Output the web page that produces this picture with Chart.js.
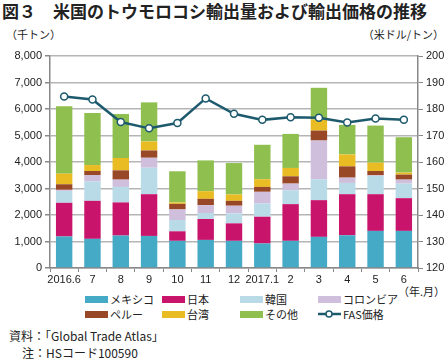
<!DOCTYPE html>
<html>
<head>
<meta charset="utf-8">
<script src="https://cdn.jsdelivr.net/npm/chart.js@4"></script>
<style>
  body { margin: 0; background: #fff; font-family: "Noto Sans CJK JP", sans-serif; color: #222; }
  #wrap { position: relative; width: 446px; height: 360px; overflow: hidden; }
  .abs { position: absolute; white-space: nowrap; }
  #title { left: 2px; top: 0px; font-size: 17px; font-weight: bold; letter-spacing: 0px; line-height: 22px; }
  .unit { font-size: 11px; top: 26px; line-height: 16px; }
  #legend { left: 0; top: 290px; width: 446px; height: 36px; }
  .item { position: absolute; font-size: 11px; line-height: 14px; }
  .box { position: absolute; top: 4px; width: 23px; height: 7px; }
  .note { font-size: 12px; line-height: 16px; }
  canvas { position: absolute; left: 0; top: 40px; }
</style>
</head>
<body>
<div id="wrap">
  <div id="title" class="abs">図３　米国のトウモロコシ輸出量および輸出価格の推移</div>
  <div class="abs unit" style="left:6px">（千トン）</div>
  <div class="abs unit" style="right:2px">（米ドル/トン）</div>
  <div class="abs" style="right:1px; top:283px; font-size:11px">（年.月）</div>
  <div id="legend" class="abs"></div>
  <div class="abs note" style="left:9px; top:328px">資料：「Global Trade Atlas」</div>
  <div class="abs note" style="left:22px; top:345px">注：HSコード100590</div>
  <canvas id="chart" width="446" height="250"></canvas>
</div>
<script>
// months
const months = ["2016.6", "7", "8", "9", "10", "11", "12", "2017.1", "2", "3", "4", "5", "6"];

// exports by destination (thousand tons)
const mexico   = [1190, 1100, 1225, 1210, 1025, 1060, 1025, 925, 1025, 1175, 1235, 1400, 1400];
const japan    = [1270, 1435, 1250, 1575, 360, 790, 660, 1010, 1385, 1385, 1550, 1385, 1235];
const korea    = [450, 735, 585, 1000, 425, 225, 375, 500, 525, 790, 425, 690, 550];
const colombia = [40, 240, 275, 375, 400, 300, 290, 440, 250, 1460, 200, 25, 150];
const peru     = [210, 150, 350, 275, 210, 235, 185, 185, 275, 375, 425, 160, 190];
const taiwan   = [400, 225, 465, 340, 55, 290, 240, 290, 315, 415, 450, 315, 75];
const others   = [2540, 1965, 1660, 1475, 1175, 1160, 1185, 1300, 1285, 1200, 1115, 1400, 1335];

// FAS price (USD/ton)
const fasPrice = [184.7, 183.6, 175.1, 172.7, 174.7, 184.0, 178.2, 175.9, 176.9, 176.7, 174.9, 176.4, 175.9];

const leftTicks = [0, 1000, 2000, 3000, 4000, 5000, 6000, 7000, 8000];
const rightTicks = [120, 130, 140, 150, 160, 170, 180, 190, 200];

const barSeries = [
  { label: "メキシコ", data: mexico, color: "#45aac6" },
  { label: "日本", data: japan, color: "#c8156b" },
  { label: "韓国", data: korea, color: "#b9dbe7" },
  { label: "コロンビア", data: colombia, color: "#d0bfdc" },
  { label: "ペルー", data: peru, color: "#984826" },
  { label: "台湾", data: taiwan, color: "#e9bc24" },
  { label: "その他", data: others, color: "#8fbf4e" },
];
const lineColor = "#1d5a6d";
const tickFont = { family: "'Liberation Sans', Arial, sans-serif", size: 11 };

const datasets = barSeries.map((s) => ({
  type: "bar",
  label: s.label,
  data: s.data,
  backgroundColor: s.color,
  yAxisID: "y",
  stack: "exports",
  order: 1,
  categoryPercentage: 1.0,
  barPercentage: 0.58,
}));
datasets.push({
  type: "line",
  label: "FAS価格",
  data: fasPrice,
  yAxisID: "y1",
  borderColor: lineColor,
  borderWidth: 2.5,
  pointRadius: 3.5,
  pointBackgroundColor: "#fff",
  pointBorderColor: lineColor,
  pointBorderWidth: 1.5,
  tension: 0,
  order: 0,
});

new Chart(document.getElementById("chart"), {
  data: { labels: months, datasets },
  options: {
    responsive: false,
    animation: false,
    layout: { padding: { top: 16, left: 0, right: 0, bottom: 0 } },
    plugins: { legend: { display: false }, tooltip: { enabled: false } },
    scales: {
      x: {
        stacked: true,
        offset: true,
        grid: { drawOnChartArea: false, drawTicks: true, tickLength: 4, color: "#888" },
        border: { color: "#888", width: 1.5 },
        ticks: { font: tickFont, color: "#222", maxRotation: 0, autoSkip: false, padding: 1 },
        afterFit: (s) => { s.height = 22; },
      },
      y: {
        stacked: true,
        position: "left",
        min: 0,
        max: 8000,
        afterBuildTicks: (s) => { s.ticks = leftTicks.map((v) => ({ value: v })); },
        grid: { color: "#b5b5b5", lineWidth: 1.5, tickLength: 5, tickColor: "#888" },
        border: { color: "#888", width: 1.5 },
        ticks: {
          font: tickFont,
          color: "#222",
          padding: 3,
          callback: (v) => v.toLocaleString("en-US"),
        },
        afterFit: (s) => { s.width = 50; },
      },
      y1: {
        position: "right",
        min: 120,
        max: 200,
        afterBuildTicks: (s) => { s.ticks = rightTicks.map((v) => ({ value: v })); },
        grid: { drawOnChartArea: false, tickLength: 5, color: "#888" },
        border: { color: "#888", width: 1.5 },
        ticks: { font: tickFont, color: "#222", padding: 3 },
        afterFit: (s) => { s.width = 28; },
      },
    },
  },
});

// legend, 4 columns x 2 rows
const legendItems = barSeries.map((s) => ({ label: s.label, color: s.color }));
legendItems.push({ label: "FAS価格", line: true });
const colX = [85, 162, 240, 318];
const rowY = [2, 17];
const legend = document.getElementById("legend");
legendItems.forEach((it, i) => {
  const el = document.createElement("div");
  el.className = "item";
  el.style.left = colX[i % 4] + "px";
  el.style.top = rowY[Math.floor(i / 4)] + "px";
  let mark;
  if (it.line) {
    mark = '<svg class="box" style="height:10px;top:2px" width="23" height="10">' +
      '<line x1="0" y1="5" x2="23" y2="5" stroke="' + lineColor + '" stroke-width="2.5"/>' +
      '<circle cx="11" cy="5" r="3" fill="#fff" stroke="' + lineColor + '" stroke-width="1.5"/></svg>';
  } else {
    mark = '<span class="box" style="background:' + it.color + '"></span>';
  }
  el.innerHTML = mark + '<span style="position:absolute;left:25px;top:0">' + it.label + "</span>";
  legend.appendChild(el);
});
</script>
</body>
</html>
